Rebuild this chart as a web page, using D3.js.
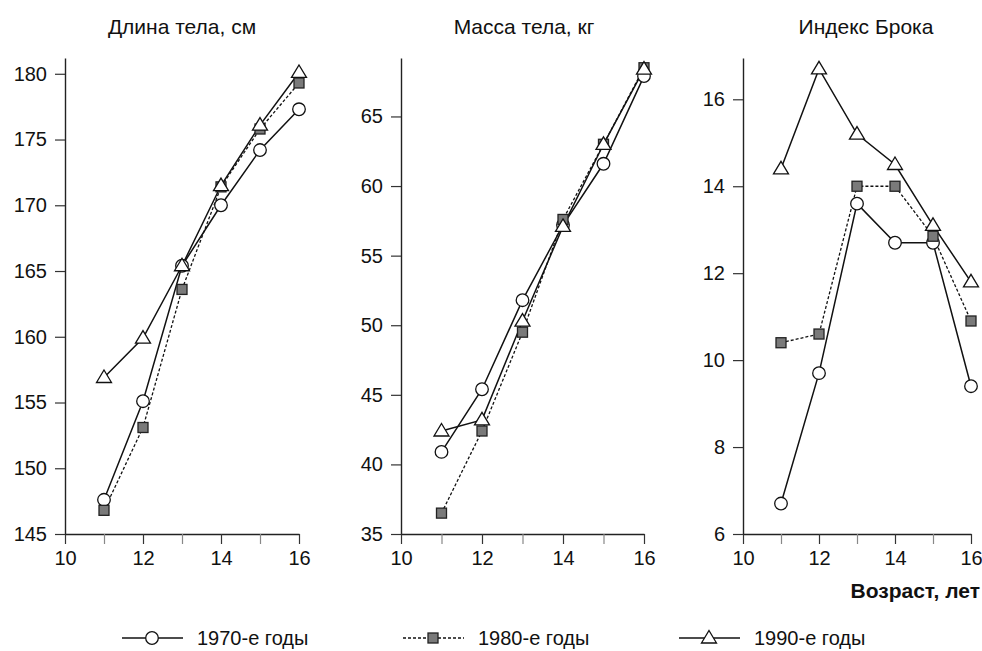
<!DOCTYPE html>
<html>
<head>
<meta charset="utf-8">
<script src="https://cdnjs.cloudflare.com/ajax/libs/d3/7.8.5/d3.min.js"></script>
<style>
    body { margin: 0; background: #fff; }
    svg { display: block; font-family: "Liberation Sans", Arial, sans-serif; }
</style>
</head>
<body>
<svg id="chart" width="982" height="651"></svg>
<script>
// age, years
var ages = [11, 12, 13, 14, 15, 16];
var xTicks = [10, 11, 12, 13, 14, 15, 16];

var seriesNames = ["1970-е годы", "1980-е годы", "1990-е годы"];

var bodyLength1970 = [147.6, 155.1, 165.4, 170.0, 174.2, 177.3];
var bodyLength1980 = [146.8, 153.1, 163.6, 171.4, 175.8, 179.3];
var bodyLength1990 = [156.9, 159.9, 165.4, 171.5, 176.1, 180.1];

var bodyMass1970 = [40.9, 45.4, 51.8, 57.2, 61.6, 67.9];
var bodyMass1980 = [36.5, 42.4, 49.5, 57.6, 63.0, 68.5];
var bodyMass1990 = [42.4, 43.2, 50.3, 57.1, 63.0, 68.4];

var broca1970 = [6.7, 9.7, 13.6, 12.7, 12.7, 9.4];
var broca1980 = [10.4, 10.6, 14.0, 14.0, 12.85, 10.9];
var broca1990 = [14.4, 16.7, 15.2, 14.5, 13.1, 11.8];

var panelTitles = ["Длина тела, см", "Масса тела, кг", "Индекс Брока"];
var lengthTicks = [145, 150, 155, 160, 165, 170, 175, 180];
var massTicks = [35, 40, 45, 50, 55, 60, 65];
var brocaTicks = [6, 8, 10, 12, 14, 16];

var panels = [
    { title: panelTitles[0], left: 65, right: 299, yDomain: [145, 181.2], ticks: lengthTicks,
      series: [bodyLength1970, bodyLength1980, bodyLength1990], titleX: 182 },
    { title: panelTitles[1], left: 401, right: 644, yDomain: [35, 69.2], ticks: massTicks,
      series: [bodyMass1970, bodyMass1980, bodyMass1990], titleX: 524 },
    { title: panelTitles[2], left: 743, right: 971, yDomain: [6, 16.95], ticks: brocaTicks,
      series: [broca1970, broca1980, broca1990], titleX: 866 }
];

var styles = [
    { marker: "circle", dash: null },
    { marker: "square", dash: "3,2" },
    { marker: "triangle", dash: null }
];

var plotTop = 58, plotBottom = 534;
var svg = d3.select("#chart");

function drawMarker(g, kind, cx, cy) {
    if (kind === "circle") {
        g.append("circle")
            .attr("cx", cx).attr("cy", cy).attr("r", 6.3)
            .attr("fill", "#fff").attr("stroke", "#111").attr("stroke-width", 1.3);
    } else if (kind === "square") {
        g.append("rect")
            .attr("x", cx - 5).attr("y", cy - 5).attr("width", 10).attr("height", 10)
            .attr("fill", "#7a7a7a").attr("stroke", "#222").attr("stroke-width", 1.3);
    } else {
        g.append("path")
            .attr("d", "M" + cx + "," + (cy - 7.5) + "L" + (cx + 7.5) + "," + (cy + 5) + "L" + (cx - 7.5) + "," + (cy + 5) + "Z")
            .attr("fill", "#fff").attr("stroke", "#111").attr("stroke-width", 1.3);
    }
}

panels.forEach(function (p) {
    var x = d3.scaleLinear().domain([10, 16]).range([p.left, p.right]),
        y = d3.scaleLinear().domain(p.yDomain).range([plotBottom, plotTop]),
        g = svg.append("g");

    var xAxis = d3.axisBottom(x)
        .tickValues(xTicks)
        .tickSize(10)
        .tickSizeOuter(0)
        .tickPadding(7)
        .tickFormat(function (d) { return d % 2 === 0 ? d : ""; });

    var yAxis = d3.axisLeft(y)
        .tickValues(p.ticks)
        .tickSize(10)
        .tickSizeOuter(0)
        .tickPadding(8);

    var gx = g.append("g").attr("transform", "translate(0," + plotBottom + ")").call(xAxis);
    var gy = g.append("g").attr("transform", "translate(" + p.left + ",0)").call(yAxis);

    [gx, gy].forEach(function (a) {
        a.selectAll("path.domain").attr("stroke", "#222").attr("stroke-width", 1.4);
        a.selectAll(".tick line").attr("stroke", "#333").attr("stroke-width", 1.2);
        a.selectAll("text").attr("font-size", 20).attr("fill", "#111")
            .attr("font-family", "'Liberation Sans', Arial, sans-serif");
    });
    gx.selectAll(".tick line").attr("stroke", function (d) { return d % 2 === 0 ? "#333" : "#888"; });

    g.append("text")
        .attr("x", p.titleX).attr("y", 34)
        .attr("text-anchor", "middle")
        .attr("font-size", 21).attr("fill", "#111")
        .text(p.title);

    var line = d3.line()
        .x(function (d, i) { return x(ages[i]); })
        .y(function (d) { return y(d); });

    p.series.forEach(function (vals, k) {
        g.append("path")
            .datum(vals)
            .attr("d", line)
            .attr("fill", "none")
            .attr("stroke", "#111")
            .attr("stroke-width", k === 1 ? 1.3 : 1.5)
            .attr("stroke-dasharray", styles[k].dash);
    });

    p.series.forEach(function (vals, k) {
        var mg = g.append("g");
        vals.forEach(function (v, i) {
            drawMarker(mg, styles[k].marker, x(ages[i]), y(v));
        });
    });
});

svg.append("text")
    .attr("x", 980).attr("y", 598)
    .attr("text-anchor", "end")
    .attr("font-size", 21).attr("font-weight", "bold").attr("fill", "#111")
    .text("Возраст, лет");

// legend
var legendX = [122, 403, 679], legendY = 638;

seriesNames.forEach(function (name, k) {
    var lx = legendX[k],
        lg = svg.append("g");

    lg.append("line")
        .attr("x1", lx).attr("x2", lx + 61)
        .attr("y1", legendY).attr("y2", legendY)
        .attr("stroke", "#111")
        .attr("stroke-width", k === 1 ? 1.3 : 1.5)
        .attr("stroke-dasharray", styles[k].dash);

    drawMarker(lg, styles[k].marker, lx + 30, legendY);

    lg.append("text")
        .attr("x", lx + 75).attr("y", legendY + 7)
        .attr("font-size", 20).attr("fill", "#111")
        .text(name);
});
</script>
</body>
</html>
